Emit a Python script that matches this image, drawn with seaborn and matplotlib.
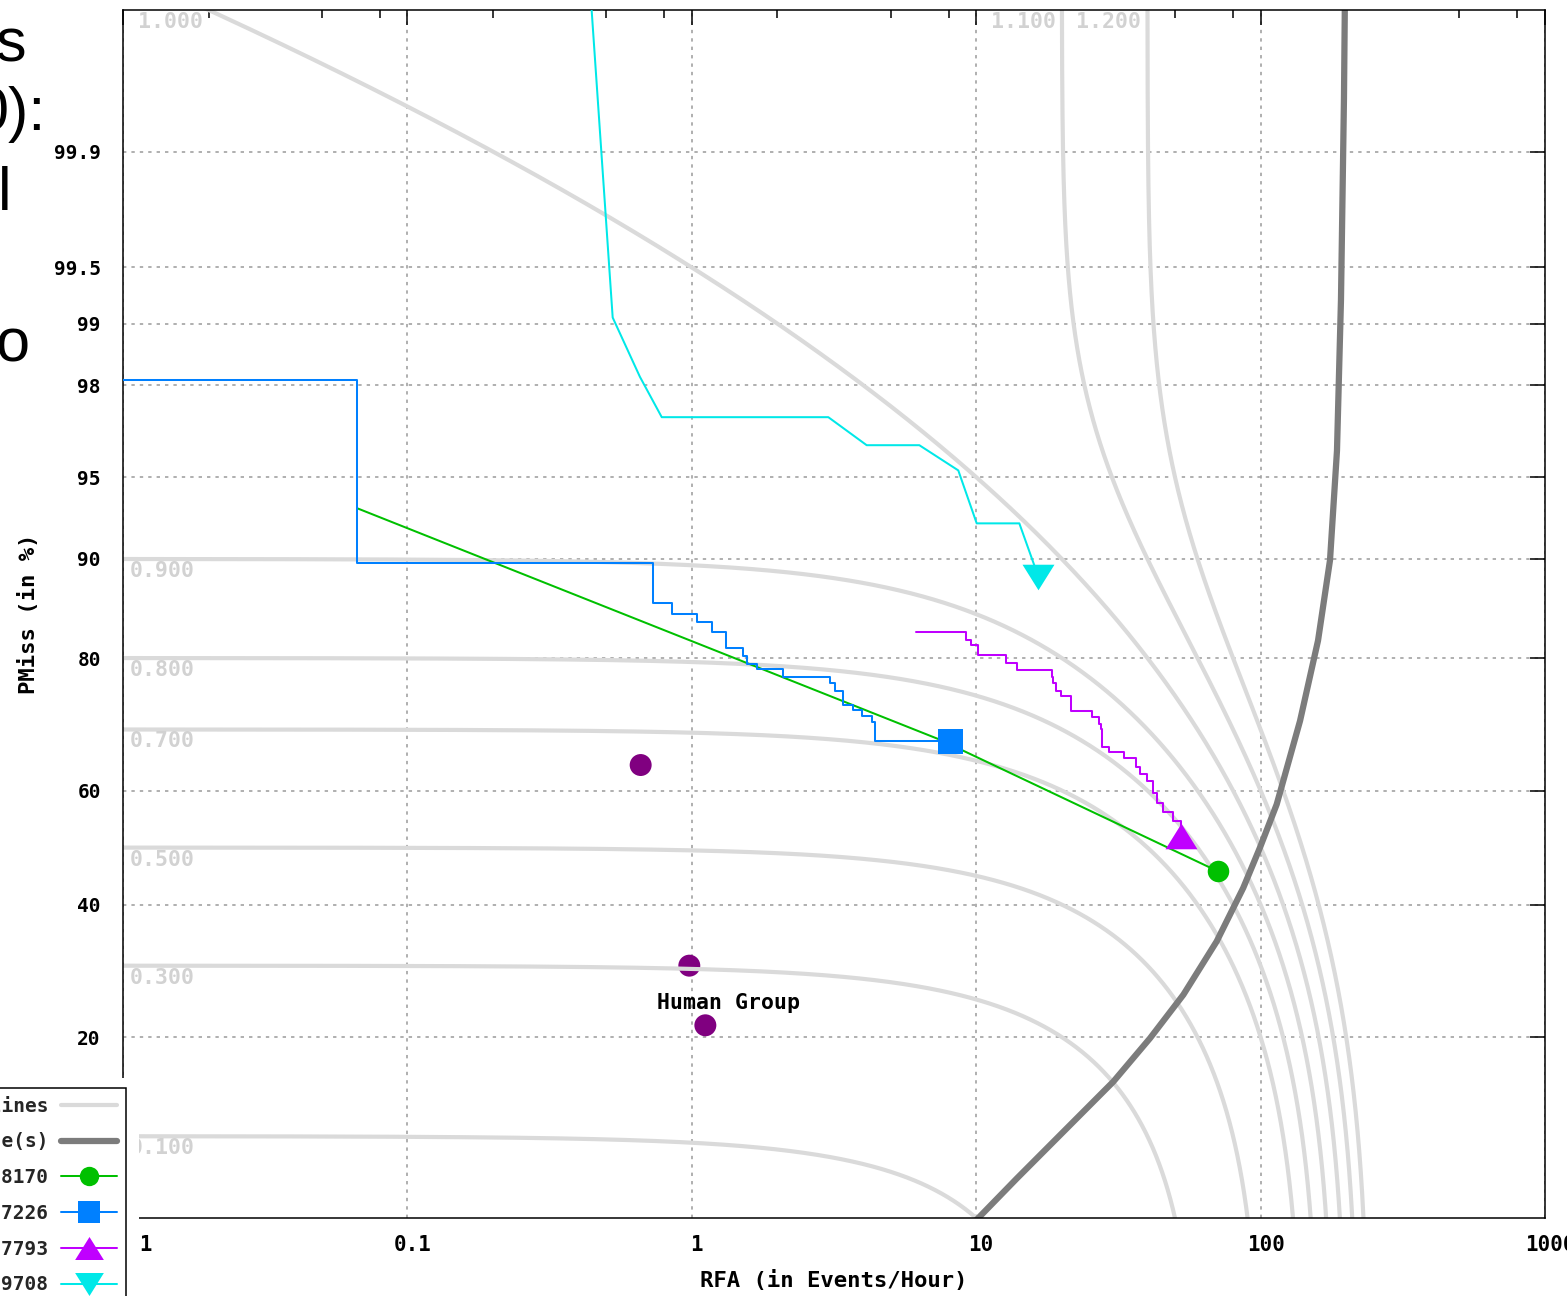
import numpy as np
import matplotlib
matplotlib.use("Agg")
import matplotlib.pyplot as plt
import seaborn as sns
from matplotlib.lines import Line2D
from matplotlib.path import Path
from matplotlib.patches import Rectangle
from matplotlib.transforms import ScaledTranslation
from matplotlib.ticker import LogLocator, NullFormatter, NullLocator
from statistics import NormalDist

# ---------------------------------------------------------------- data
# x: rate of false alarms (events/hour), y: miss probability (%)
rfa_8170 = [0.0667, 7.46, 70.8]
pmiss_8170 = [93.4, 68.4, 45.8]

rfa_7226 = [0.01, 0.0667, 0.729, 0.854, 1.045, 1.175, 1.316, 1.517, 1.560, 1.691,
            2.087, 3.06, 3.19, 3.41, 3.68, 3.96, 4.31, 4.41, 8.09]
pmiss_7226 = [98.1, 89.7, 86.1, 85.0, 84.2, 83.1, 81.2, 80.3, 79.3, 78.6,
              77.5, 76.8, 75.7, 73.7, 72.9, 72.0, 71.1, 68.2, 68.2]

rfa_7793 = [6.14, 9.19, 9.56, 10.12, 12.73, 13.95, 18.43, 18.67, 19.08, 19.87,
            21.54, 25.48, 27.09, 27.41, 27.76, 29.38, 33.08, 36.38, 37.66, 39.96,
            41.95, 43.33, 45.27, 49.32, 52.5]
pmiss_7793 = [83.1, 82.2, 81.6, 80.4, 79.4, 78.5, 77.6, 76.8, 75.7, 74.9,
              72.8, 71.9, 70.9, 70.1, 67.3, 66.4, 65.5, 63.9, 62.8, 61.6,
              59.6, 57.9, 56.2, 54.7, 52.0]

rfa_9708 = [0.435, 0.527, 0.657, 0.784, 3.02, 4.12, 6.31, 8.65, 10.04, 14.18, 16.54]
pmiss_9708 = [99.995, 99.07, 98.17, 97.2, 97.2, 96.3, 96.3, 95.3, 92.5, 92.5, 88.55]

human_rfa = [0.661, 0.980, 1.116]
human_pmiss = [64.3, 30.0, 21.5]

random_rfa = [10.0, 13.88, 30.35, 40.85, 53.5, 70.1, 86.9, 99.5, 113.9, 137.6,
              159.2, 175.4, 185.6, 191.7, 196.4, 198.3]
random_pmiss = [4.9, 7.08, 14.93, 19.86, 25.67, 33.86, 42.9, 50.0, 57.6, 71.3,
                82.1, 89.9, 96.1, 99.25, 99.956, 99.995]

# iso-cost levels (DCR = PMiss + beta * RFA)
dcr_levels = [0.1, 0.3, 0.5, 0.7, 0.8, 0.9, 1.0, 1.1, 1.2]
dcr_labels = ["0.100", "0.300", "0.500", "0.700", "0.800", "0.900", "1.000", "1.100", "1.200"]
beta = 0.005

xtick_vals = [0.01, 0.1, 1, 10, 100, 1000]
xtick_labels = ["0.01", "0.1", "1", "10", "100", "1000"]
ytick_vals = [20, 40, 60, 80, 90, 95, 98, 99, 99.5, 99.9]
ytick_labels = ["20", "40", "60", "80", "90", "95", "98", "99", "99.5", "99.9"]

legend_labels = ["Iso-cost lines", "Random line(s)", "Run 8170", "Run 7226", "Run 7793", "Run 9708"]

# ---------------------------------------------------------------- normal deviate scale
_nd = NormalDist()
_inv = np.vectorize(_nd.inv_cdf, otypes=[float])
_cdf = np.vectorize(_nd.cdf, otypes=[float])


def pct_to_probit(p):
    p = np.asarray(p, dtype=float)
    q = np.clip(np.atleast_1d(p) / 100.0, 1e-10, 1 - 1e-10)
    out = np.full(q.shape, np.nan)
    ok = np.isfinite(q)
    if ok.any():
        out[ok] = _inv(q[ok])
    return out.reshape(p.shape)


def probit_to_pct(z):
    z = np.asarray(z, dtype=float)
    zz = np.atleast_1d(z)
    out = np.full(zz.shape, np.nan)
    ok = np.isfinite(zz)
    if ok.any():
        out[ok] = _cdf(zz[ok]) * 100.0
    return out.reshape(z.shape)


# ---------------------------------------------------------------- style
sns.set_theme(style="white")
plt.rcParams["font.family"] = ["DejaVu Sans Mono", "DejaVu Sans"]
plt.rcParams["font.weight"] = "bold"
plt.rcParams["axes.labelweight"] = "bold"
plt.rcParams["axes.linewidth"] = 1.1
plt.rcParams["axes.edgecolor"] = "black"

W, H = 1567, 1296
fig = plt.figure(figsize=(W / 100, H / 100), dpi=100)
fig.patch.set_facecolor("white")
ax_l, ax_r, ax_t, ax_b = 123, 1545, 10, 1218
ax = fig.add_axes([ax_l / W, 1 - ax_b / H, (ax_r - ax_l) / W, (ax_b - ax_t) / H])
ax.set_facecolor("white")

ax.set_xscale("log")
ax.set_yscale("function", functions=(pct_to_probit, probit_to_pct))
ax.set_xlim(0.01, 1000)
ax.set_ylim(5, 99.99)

ax.set_xticks(xtick_vals, xtick_labels)
ax.xaxis.set_minor_locator(LogLocator(base=10, subs=(2, 5, 8), numticks=30))
ax.xaxis.set_minor_formatter(NullFormatter())
ax.set_yticks(ytick_vals, ytick_labels)
ax.yaxis.set_minor_locator(NullLocator())

ax.tick_params(axis="both", which="both", direction="in", top=True, right=True,
               color="black", width=1.1)
ax.tick_params(axis="both", which="major", length=10.8)
ax.tick_params(axis="both", which="minor", length=5.8)
ax.tick_params(axis="x", which="major", pad=12, labelsize=15, labelcolor="black")
ax.tick_params(axis="y", which="major", pad=16, labelsize=14, labelcolor="black")
for lbl in ax.get_xticklabels():
    lbl.set_fontweight("bold")
    lbl.set_transform(lbl.get_transform() + ScaledTranslation(5 / 100, 0, fig.dpi_scale_trans))
for lbl in ax.get_yticklabels():
    lbl.set_fontweight("bold")
for s in ax.spines.values():
    s.set_visible(True)
    s.set_color("black")
    s.set_linewidth(1.1)

ax.set_axisbelow(True)
ax.grid(True, which="major", color="#9a9a9a", linestyle=(0, (2.2, 3.3)), linewidth=1.1)
ax.grid(False, which="minor")

# ---------------------------------------------------------------- iso-cost lines
iso_color = "#dadada"
z_grid = np.linspace(-2.0, 4.0, 1500)
p_grid = probit_to_pct(z_grid)
r_grid = np.logspace(-2.05, 3.05, 1500)
for lev, lab in zip(dcr_levels, dcr_labels):
    r_from_p = (lev - p_grid / 100.0) / beta
    r_all = np.concatenate([r_grid, r_from_p[r_from_p > 0]])
    r_all = np.sort(r_all)
    p_all = (lev - beta * r_all) * 100.0
    keep = (p_all > 0.5) & (p_all < 99.9999)
    sns.lineplot(x=r_all[keep], y=p_all[keep], ax=ax, color=iso_color, linewidth=3,
                 estimator=None, sort=False, legend=False, zorder=2)
    if lev < 1.0:
        ax.annotate(lab, xy=(0.01, (lev - beta * 0.01) * 100), xytext=(7, -12),
                    textcoords="offset pixels", ha="left", va="center",
                    fontsize=15.5, fontweight="bold", color="#d2d2d2", zorder=2.2)
    else:
        r_top = (lev - 0.9999) / beta
        ax.annotate(lab, xy=(r_top, 99.99), xytext=(-6, -12),
                    textcoords="offset pixels", ha="right", va="center",
                    fontsize=15.5, fontweight="bold", color="#d2d2d2", zorder=2.2)

# ---------------------------------------------------------------- random performance line
sns.lineplot(x=random_rfa, y=random_pmiss, ax=ax, color="#7c7c7c", linewidth=4.5,
             estimator=None, sort=False, legend=False, zorder=2.5)

# ---------------------------------------------------------------- human reference points
sns.scatterplot(x=human_rfa, y=human_pmiss, ax=ax, color="#800080", s=250,
                edgecolor="none", linewidth=0, legend=False, zorder=1.8)
ax.annotate("Human Group", xy=(human_rfa[1], human_pmiss[1]), xytext=(39, -37),
            textcoords="offset pixels", ha="center", va="center",
            fontsize=15.5, fontweight="bold", color="black", zorder=4)

# ---------------------------------------------------------------- system DET curves
tri_up = Path([(-1.0, -0.8), (1.0, -0.8), (0.0, 0.8), (-1.0, -0.8)], closed=True)
tri_down = Path([(-1.0, 0.8), (1.0, 0.8), (0.0, -0.8), (-1.0, 0.8)], closed=True)

systems = [
    (rfa_8170, pmiss_8170, "#00c000", "o", 15.5, "default"),
    (rfa_7226, pmiss_7226, "#0080ff", "s", 18.0, "steps-post"),
    (rfa_7793, pmiss_7793, "#c000ff", tri_up, 23.0, "steps-post"),
    (rfa_9708, pmiss_9708, "#00e8e8", tri_down, 23.0, "default"),
]
for i, (xs, ys, col, mk, ms, ds) in enumerate(systems):
    sns.lineplot(x=xs, y=ys, ax=ax, color=col, linewidth=1.45, estimator=None,
                 sort=False, legend=False, drawstyle=ds, marker=mk, markevery=[len(xs) - 1],
                 markersize=ms, markeredgewidth=0, markeredgecolor=col,
                 markerfacecolor=col, zorder=3 + 0.1 * i)

ax.set_xlabel("RFA (in Events/Hour)", fontsize=16, fontweight="bold", color="black")
ax.set_ylabel("PMiss (in %)", fontsize=16, fontweight="bold", color="black")
ax.xaxis.set_label_coords(0.5, (ax_b - 1281) / (ax_b - ax_t))
ax.xaxis.label.set_verticalalignment("center")
ax.yaxis.set_label_coords((29 - ax_l) / (ax_r - ax_l), 0.5)
ax.yaxis.label.set_verticalalignment("center")

# ---------------------------------------------------------------- legend block (bottom-left)
cover = Rectangle((0, 0), 139 / W, (H - 1078) / H, transform=fig.transFigure,
                  facecolor="white", edgecolor="none", zorder=4)
fig.patches.append(cover)

handles = [
    Line2D([0], [0], color=iso_color, linewidth=3),
    Line2D([0], [0], color="#7c7c7c", linewidth=4.5),
]
for xs, ys, col, mk, ms, ds in systems:
    handles.append(Line2D([0], [0], color=col, linewidth=1.45, marker=mk,
                          markersize=ms * 0.9, markeredgewidth=0, markerfacecolor=col))
leg = fig.legend(handles, legend_labels, loc="upper right",
                 bbox_to_anchor=(126 / W, 1 - 1088 / H), bbox_transform=fig.transFigure,
                 borderaxespad=0, markerfirst=False, frameon=True, fancybox=False,
                 framealpha=1, edgecolor="black", facecolor="white",
                 handlelength=2.9, handletextpad=0.65,
                 labelspacing=0.86, borderpad=0.45, prop={"weight": "bold", "size": 14})
leg.get_frame().set_linewidth(1.1)
leg.set_zorder(5)

# ---------------------------------------------------------------- surrounding slide text
slide_font = dict(family="Liberation Sans", fontsize=44, color="black",
                  fontweight="normal", va="baseline", ha="right")
fig.text(26 / W, 1 - 62 / H, "s", **slide_font)
fig.text(46 / W, 1 - 130 / H, "0):", **slide_font)
fig.text(11 / W, 1 - 210 / H, "l", **slide_font)
fig.text(30 / W, 1 - 362 / H, "o", **slide_font)

fig.savefig("out.png", dpi=100, facecolor="white")
